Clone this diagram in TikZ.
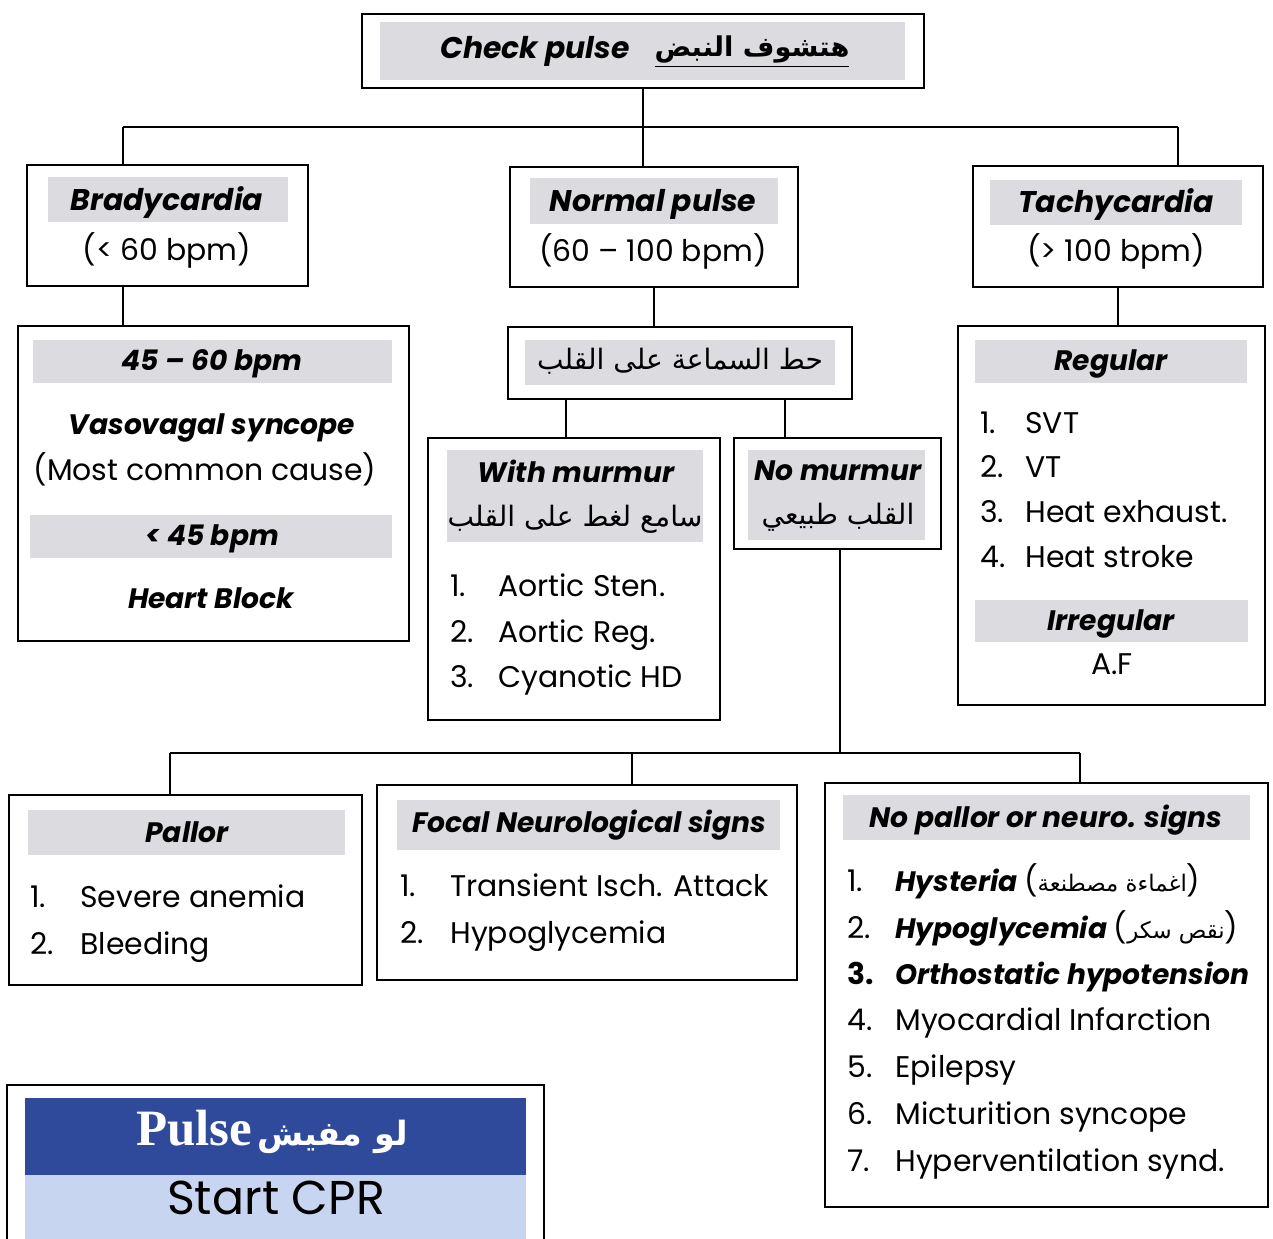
\documentclass[tikz,border=0pt]{standalone}
\usepackage{fontspec}
\setmainfont{Poppins}
\newfontfamily\arabicfont[Script=Arabic]{DejaVu Sans}
\newfontfamily\serifbf{Liberation Serif}
\TeXXeTstate=1
\usetikzlibrary{fit}
\definecolor{barg}{RGB}{220,220,224}
\definecolor{dblue}{RGB}{47,74,154}
\definecolor{lblue}{RGB}{200,213,240}
\tikzset{
  box/.style={draw=black, line width=1pt, inner sep=0pt},
  bar/.style={fill=barg, draw=none},
  link/.style={draw=black, line width=1pt},
  hd/.style={font=\fontsize{16}{20}\selectfont\bfseries\itshape, anchor=mid, inner sep=0pt, yshift=-0.12cm},
  tx/.style={font=\fontsize{17}{20}\selectfont, anchor=mid, inner sep=0pt, yshift=-0.12cm},
  txl/.style={tx, anchor=mid west},
  hdl/.style={hd, anchor=mid west},
  ar/.style={font=\fontsize{16}{20}\selectfont\arabicfont, anchor=mid, inner sep=0pt, yshift=-0.08cm},
}
\newcommand{\arsmall}[1]{\mbox{\normalfont\fontsize{17}{20}\selectfont(}{\arabicfont\upshape\mdseries\fontsize{13}{20}\selectfont\beginR #1\endR}{\normalfont\fontsize{17}{20}\selectfont)}}
\begin{document}
\begin{tikzpicture}[x=0.02cm,y=-0.02cm]
\clip (0,0) rectangle (1273,1239);
\fill[white] (0,0) rectangle (1273,1239);

% ---------- top ----------
\fill[bar] (380,22) rectangle (905,80);
\node[box, fit={(362,14) (924,88)}] (top) {};
\node[hd, font=\fontsize{17}{20}\selectfont\bfseries\itshape] (toptxt) at (535,48) {Check pulse};
\node[ar, font=\fontsize{15.5}{20}\selectfont\arabicfont\bfseries] (topar) at (752,48) {\underline{\beginR هتشوف النبض\endR}};

% ---------- level 1 ----------
\fill[bar] (48,177) rectangle (288,222);
\node[box, fit={(27,165) (308,286)}] (brady) {};
\node[hd, font=\fontsize{17}{20}\selectfont\bfseries\itshape] (bradyh) at (167,200) {Bradycardia};
\node[tx] (bradyt) at (167,250) {(< 60 bpm)};

\fill[bar] (530,178) rectangle (778,224);
\node[box, fit={(510,167) (798,287)}] (normal) {};
\node[hd, font=\fontsize{17}{20}\selectfont\bfseries\itshape] (normalh) at (653,201) {Normal pulse};
\node[tx] (normalt) at (653,251) {(60 – 100 bpm)};

\fill[bar] (990,180) rectangle (1242,225);
\node[box, fit={(973,166) (1263,287)}] (tachy) {};
\node[hd, font=\fontsize{17}{20}\selectfont\bfseries\itshape] (tachyh) at (1116,202) {Tachycardia};
\node[tx] (tachyt) at (1116,251) {(> 100 bpm)};

\coordinate (j0) at (643,127);
\coordinate (jL) at (123,127);
\coordinate (jR) at (1178,127);
\draw[link] (top.south) -- (j0);
\draw[link] (jL) -- (jR);
\draw[link] (jL) -- (brady.north -| jL);
\draw[link] (j0) -- (normal.north -| j0);
\draw[link] (jR) -- (tachy.north -| jR);

% ---------- brady detail ----------
\fill[bar] (33,340) rectangle (392,383);
\fill[bar] (30,515) rectangle (392,558);
\node[box, fit={(18,326) (409,641)}] (bradyd) {};
\node[hd] (b1) at (212,360) {45 – 60 bpm};
\node[hd] (b2) at (212,424) {Vasovagal syncope};
\node[tx] (b3) at (205,470) {(Most common cause)};
\node[hd] (b4) at (212,535) {< 45 bpm};
\node[hd] (b5) at (211,598) {Heart Block};
\draw[link] (brady.south -| jL) -- (bradyd.north -| jL);

% ---------- stethoscope ----------
\fill[bar] (525,340) rectangle (835,385);
\node[box, fit={(508,327) (852,399)}] (steth) {};
\node[ar] (stetht) at (680,361) {\beginR حط السماعة على القلب\endR};
\draw[link] (normal.south) -- (steth.north -| normal.south);

% ---------- with murmur ----------
\fill[bar] (447,450) rectangle (703,542);
\node[box, fit={(428,438) (720,720)}] (withm) {};
\node[hd] (withh) at (576,472) {With murmur};
\node[ar] (witha) at (575,518) {\beginR سامع لغط على القلب\endR};
\node[txl] (w1n) at (450,586) {1.};
\node[txl] (w1) at (498,586) {Aortic Sten.};
\node[txl] (w2n) at (450,632) {2.};
\node[txl] (w2) at (498,632) {Aortic Reg.};
\node[txl] (w3n) at (450,677) {3.};
\node[txl] (w3) at (498,677) {Cyanotic HD};
\coordinate (xw) at (566,0);
\draw[link] (steth.south -| xw) -- (withm.north -| xw);

% ---------- no murmur ----------
\fill[bar] (748,450) rectangle (925,540);
\node[box, fit={(734,438) (941,549)}] (nom) {};
\node[hd] (nomh) at (838,470) {No murmur};
\node[ar] (noma) at (838,516) {\beginR القلب طبيعي\endR};
\coordinate (xn) at (785,0);
\draw[link] (steth.south -| xn) -- (nom.north -| xn);

% ---------- tachy detail ----------
\fill[bar] (975,340) rectangle (1247,383);
\fill[bar] (975,600) rectangle (1248,642);
\node[box, fit={(958,326) (1265,705)}] (tachyd) {};
\node[hd] (regh) at (1111,360) {Regular};
\node[txl] (t1n) at (980,423) {1.};
\node[txl] (t1) at (1025,423) {SVT};
\node[txl] (t2n) at (980,467) {2.};
\node[txl] (t2) at (1025,467) {VT};
\node[txl] (t3n) at (980,512) {3.};
\node[txl] (t3) at (1025,512) {Heat exhaust.};
\node[txl] (t4n) at (980,557) {4.};
\node[txl] (t4) at (1025,557) {Heat stroke};
\node[hd] (irrh) at (1111,620) {Irregular};
\node[tx] (af) at (1112,664) {A.F};
\coordinate (xt) at (1118,0);
\draw[link] (tachy.south -| xt) -- (tachyd.north -| xt);

% ---------- bottom branches ----------
\coordinate (j2) at (840,753);
\coordinate (j2L) at (170,753);
\coordinate (j2M) at (632,753);
\coordinate (j2R) at (1080,753);

\fill[bar] (28,810) rectangle (345,855);
\node[box, fit={(9,795) (362,985)}] (pallor) {};
\node[hd] (pallorh) at (187,832) {Pallor};
\node[txl] (p1n) at (30,897) {1.};
\node[txl] (p1) at (80,897) {Severe anemia};
\node[txl] (p2n) at (30,944) {2.};
\node[txl] (p2) at (80,944) {Bleeding};

\fill[bar] (397,800) rectangle (780,850);
\node[box, fit={(377,785) (797,980)}] (focal) {};
\node[hd] (focalh) at (589,822) {Focal Neurological signs};
\node[txl] (f1n) at (400,886) {1.};
\node[txl] (f1) at (450,886) {Transient Isch. Attack};
\node[txl] (f2n) at (400,933) {2.};
\node[txl] (f2) at (450,933) {Hypoglycemia};

\fill[bar] (843,795) rectangle (1250,840);
\node[box, fit={(825,783) (1268,1207)}] (nop) {};
\node[hd] (noph) at (1046,817) {No pallor or neuro. signs};
\node[txl] (n1n) at (847,881) {1.};
\node[hdl] (n1) at (895,881) {Hysteria \arsmall{اغماءة مصطنعة}};
\node[txl] (n2n) at (847,928) {2.};
\node[hdl] (n2) at (895,928) {Hypoglycemia \arsmall{نقص سكر}};
\node[txl, font=\fontsize{17}{20}\selectfont\bfseries] (n3n) at (847,974) {3.};
\node[hdl] (n3) at (895,974) {Orthostatic hypotension};
\node[txl] (n4n) at (847,1020) {4.};
\node[txl] (n4) at (895,1020) {Myocardial Infarction};
\node[txl] (n5n) at (847,1067) {5.};
\node[txl] (n5) at (895,1067) {Epilepsy};
\node[txl] (n6n) at (847,1114) {6.};
\node[txl] (n6) at (895,1114) {Micturition syncope};
\node[txl] (n7n) at (847,1161) {7.};
\node[txl] (n7) at (895,1161) {Hyperventilation synd.};

\draw[link] (nom.south -| j2) -- (j2);
\draw[link] (j2L) -- (j2R);
\draw[link] (j2L) -- (pallor.north -| j2L);
\draw[link] (j2M) -- (focal.north -| j2M);
\draw[link] (j2R) -- (nop.north -| j2R);

% ---------- CPR ----------
\fill[dblue] (25,1098) rectangle (526,1175);
\fill[lblue] (25,1175) rectangle (526,1250);
\node[box, fit={(7,1085) (544,1260)}] (cpr) {};
\node[anchor=mid, inner sep=0pt, text=white, yshift=-0.14cm] (cprh) at (272,1134) {{\serifbf\fontsize{29}{32}\selectfont\bfseries Pulse} {\arabicfont\fontsize{19}{28}\selectfont\bfseries\beginR لو مفيش\endR}};
\node[anchor=mid, inner sep=0pt, font=\fontsize{27}{32}\selectfont, yshift=-0.08cm] (cprt) at (276,1206) {Start CPR};
\end{tikzpicture}
\end{document}
